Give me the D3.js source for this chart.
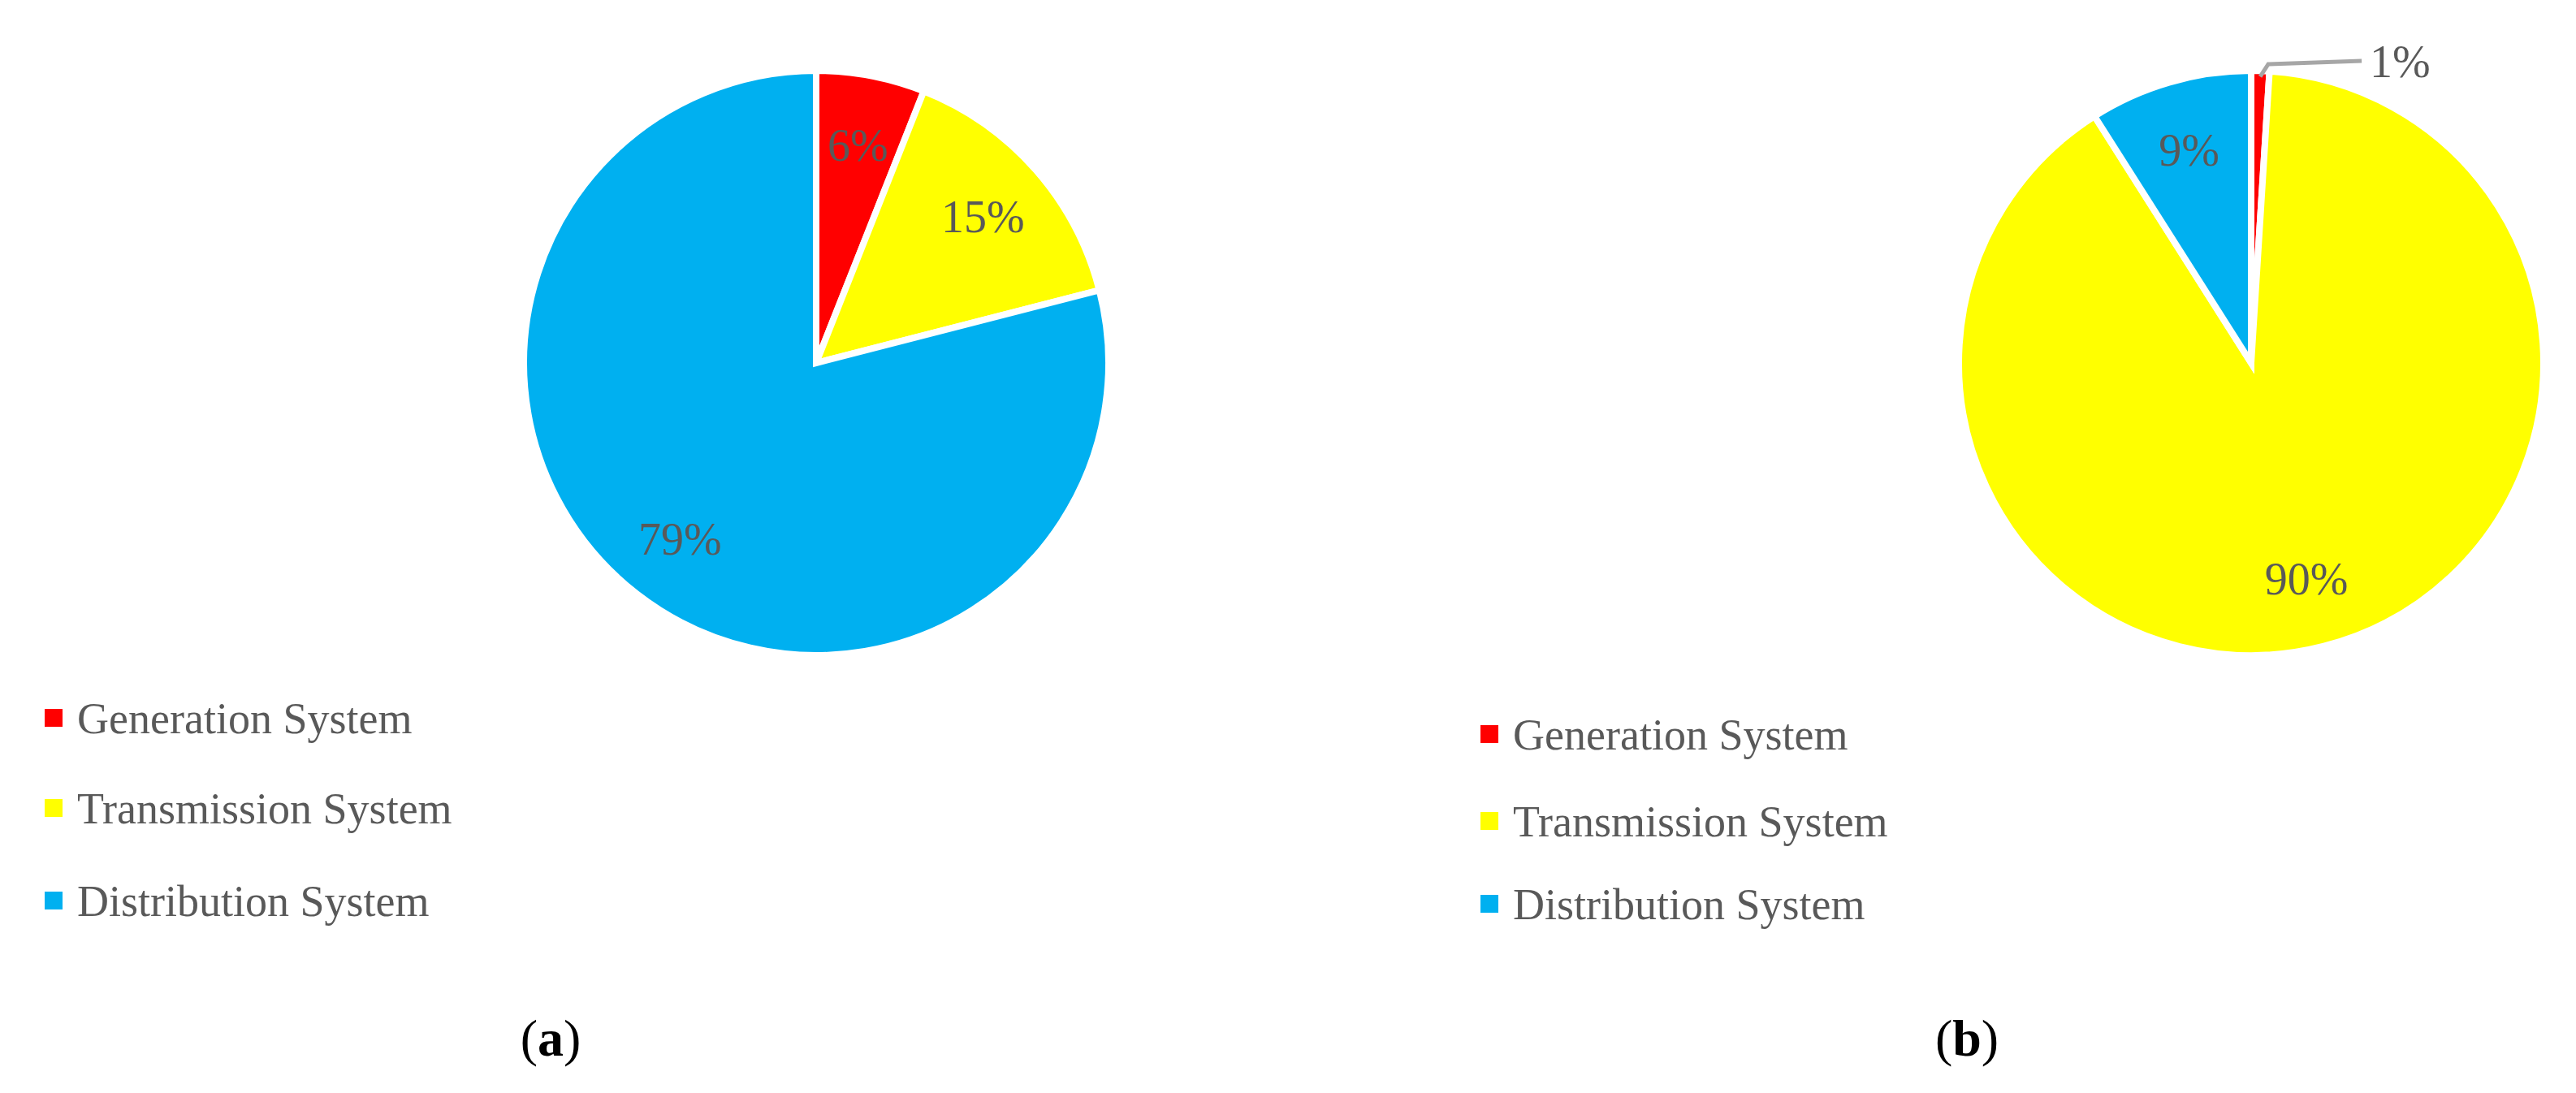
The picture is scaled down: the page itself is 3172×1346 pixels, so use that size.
<!DOCTYPE html>
<html><head><meta charset="utf-8">
<script src="https://cdn.jsdelivr.net/npm/d3@7"></script>
<style>body{margin:0;background:#fff}</style>
</head><body>
<svg id="c" width="3172" height="1346"></svg>
<script>
const categories = ["Generation System", "Transmission System", "Distribution System"];
const colors = ["#ff0000", "#ffff00", "#00b0f0"];
const valuesA = [6, 15, 79];
const valuesB = [1, 90, 9];

const svg = d3.select("#c");
const font = "'Liberation Serif', serif";
const grey = "#595959";
const R = 360;

function drawPie(cx, cy, values, small) {
  const g = svg.append("g").attr("transform", `translate(${cx},${cy})`);
  const arcs = d3.pie().sort(null)(values);
  const arc = d3.arc().innerRadius(0).outerRadius(R);
  const lab = d3.arc().innerRadius(R * 0.76).outerRadius(R * 0.76);
  g.selectAll("path").data(arcs).join("path")
    .attr("d", arc).attr("fill", (d, i) => colors[i])
    .attr("stroke", "#fff").attr("stroke-width", 8);
  arcs.forEach(d => {
    if (d.value === small) {
      const p = d3.arc().innerRadius(R * 0.98).outerRadius(R * 0.98).centroid(d);
      g.append("polyline")
        .attr("points", `${p[0]},${p[1]} ${p[0] + 10},${-R - 8} ${p[0] + 125},${-R - 12}`)
        .attr("fill", "none").attr("stroke", "#a6a6a6").attr("stroke-width", 5);
      g.append("text").attr("x", p[0] + 135).attr("y", -R - 12).attr("dy", "0.35em")
        .attr("font-family", font).attr("font-size", 56).attr("fill", grey).text(d.value + "%");
    } else {
      const c = lab.centroid(d);
      g.append("text").attr("x", c[0]).attr("y", c[1]).attr("dy", "0.35em")
        .attr("text-anchor", "middle")
        .attr("font-family", font).attr("font-size", 56).attr("fill", grey).text(d.value + "%");
    }
  });
}

function drawLegend(x, ys) {
  categories.forEach((c, i) => {
    svg.append("rect").attr("x", x).attr("y", ys[i] - 11).attr("width", 22).attr("height", 22).attr("fill", colors[i]);
    svg.append("text").attr("x", x + 40).attr("y", ys[i]).attr("dy", "0.35em")
      .attr("font-family", font).attr("font-size", 54).attr("fill", grey).text(c);
  });
}

drawPie(1005, 447, valuesA, null);
drawPie(2772, 447, valuesB, 1);
drawLegend(55, [884, 995, 1109]);
drawLegend(1823, [904, 1011, 1113]);

[["a", 678], ["b", 2422]].forEach(([t, x]) => {
  const tx = svg.append("text").attr("x", x).attr("y", 1278).attr("dy", "0.35em")
    .attr("text-anchor", "middle").attr("font-family", font).attr("font-size", 64).attr("fill", "#000");
  tx.append("tspan").text("(");
  tx.append("tspan").attr("font-weight", "bold").text(t);
  tx.append("tspan").text(")");
});
</script>
</body></html>
